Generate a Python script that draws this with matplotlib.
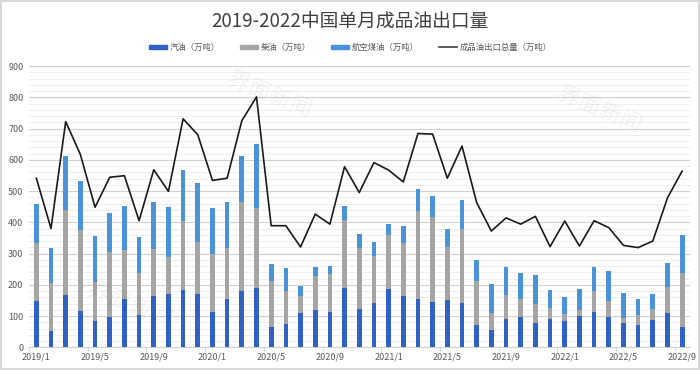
import matplotlib
matplotlib.use("Agg")
import matplotlib.pyplot as plt
import numpy as np
from matplotlib.lines import Line2D
from matplotlib.patches import Patch

plt.rcParams['font.family'] = ['Noto Sans CJK SC', 'DejaVu Sans']

months = [f"{y}/{m}" for y in range(2019, 2023) for m in range(1, 13)][:45]

gasoline = [149, 53, 167, 116, 83, 98, 155, 103, 165, 171, 182, 172, 113, 156,
            181, 189, 66, 76, 111, 120, 114, 190, 124, 143, 187, 163, 155, 146, 152, 143,
            71, 55, 91, 98, 79, 92, 84, 100, 113, 96, 79, 71, 86, 110, 64]
diesel = [185, 152, 272, 260, 125, 207, 156, 134, 150, 119, 222, 164, 187, 162,
          284, 258, 145, 103, 54, 109, 122, 217, 194, 150, 173, 172, 281, 271, 169, 237,
          141, 55, 76, 57, 61, 34, 23, 20, 68, 52, 14, 32, 37, 83, 174]
jet = [126, 114, 173, 155, 148, 125, 140, 116, 150, 159, 163, 190, 146, 146,
       147, 203, 56, 75, 32, 29, 24, 44, 46, 43, 36, 52, 70, 67, 56, 91,
       66, 93, 90, 83, 92, 57, 54, 67, 77, 96, 80, 53, 48, 77, 122]
total = [541, 380, 722, 617, 448, 544, 549, 405, 568, 499, 731, 680, 534, 541,
         725, 801, 389, 389, 321, 426, 394, 578, 495, 591, 567, 529, 684, 682, 541, 644,
         463, 372, 414, 394, 419, 322, 404, 324, 405, 383, 326, 319, 340, 478, 564]

labels = ["汽油（万吨）", "柴油（万吨）", "航空煤油（万吨）", "成品油出口总量（万吨）"]
title = "2019-2022中国单月成品油出口量"

c_gas = "#2f62c4"
c_die = "#a5a5a5"
c_jet = "#4b93d8"
c_txt = "#595959"

fig = plt.figure(figsize=(7, 3.7), dpi=100)
fig.patch.set_edgecolor("#d9d9d9")
fig.patch.set_linewidth(1.5)
ax = fig.add_axes([29/700, 1-347.3/370, (689.5-29)/700, (347.3-66)/370])

x = np.arange(len(months))
g = np.array(gasoline); d = np.array(diesel); j = np.array(jet)
w = 0.32
ax.bar(x, g, w, color=c_gas, zorder=3)
ax.bar(x, d, w, bottom=g, color=c_die, zorder=3)
ax.bar(x, j, w, bottom=g + d, color=c_jet, zorder=3)
ax.plot(x, total, color="#1a1a1a", lw=1.2, zorder=4)

ax.set_xlim(-0.5, len(months) - 0.5)
ax.set_ylim(0, 900)
ax.set_yticks(np.arange(0, 901, 100))
ax.set_yticks(np.arange(0, 901, 20), minor=True)
ax.grid(axis='y', which='major', color="#d0d0d0", lw=0.8, zorder=0)
ax.grid(axis='y', which='minor', color="#ebebeb", lw=0.6, zorder=0)
ax.tick_params(axis='y', which='both', length=0, labelsize=6.5, labelcolor=c_txt, pad=4)

ax.set_xticks(x[::4])
ax.set_xticklabels(months[::4], fontsize=6.5, color=c_txt)
ax.set_xticks(np.arange(-0.5, len(months), 4), minor=True)
ax.tick_params(axis='x', which='major', length=0, pad=4)
ax.tick_params(axis='x', which='minor', length=3, color="#d0d0d0")

for s in ["top", "right", "left"]:
    ax.spines[s].set_visible(False)
ax.spines["bottom"].set_color("#d0d0d0")

fig.text(0.5, 1 - 21/370, title, ha='center', va='center', fontsize=13.5, color="#404040")

handles = [Patch(color=c_gas), Patch(color=c_die), Patch(color=c_jet),
           Line2D([0], [0], color="#404040", lw=1.2)]
leg = fig.legend(handles, labels, loc='center', bbox_to_anchor=(0.5, 1 - 47.5/370), ncol=4,
                 frameon=False, fontsize=6, handlelength=2.2, handleheight=0.45,
                 columnspacing=2.4, handletextpad=0.3)
for t in leg.get_texts():
    t.set_color(c_txt)

# watermark
for (wx, wy, r) in [(600/700, 1-110/370, -22), (270/700, 1-95/370, -22), (130/700, 1-305/370, -22)]:
    fig.text(wx, wy, "界面新闻", fontsize=16, color="#000000", alpha=0.05, rotation=r,
             ha='center', va='center')

fig.savefig("out.png", dpi=100)
